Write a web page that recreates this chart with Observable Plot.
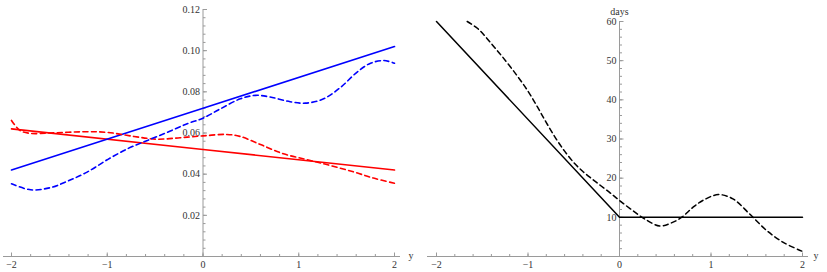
<!DOCTYPE html>
<html>
<head>
<meta charset="utf-8">
<script src="https://cdn.jsdelivr.net/npm/d3@7"></script>
<script src="https://cdn.jsdelivr.net/npm/@observablehq/plot@0.6"></script>
<style>
  html, body { margin: 0; padding: 0; background: #fff; }
  #wrap { display: flex; flex-direction: row; width: 827px; height: 272px; }
</style>
</head>
<body>
<div id="wrap"></div>
<script>
// ---------- Left panel data ----------
const blueSolidX = [-2, 0, 2];
const blueSolidV = [0.042, 0.072, 0.102];
const redSolidX = [-2, 0, 2];
const redSolidV = [0.062, 0.052, 0.042];
const blueDashedX = [-2, -1.8, -1.59, -1.4, -1.21, -1.0, -0.79, -0.58, -0.37, -0.165, 0, 0.18, 0.39, 0.55, 0.7, 0.91, 1.07, 1.26, 1.44, 1.61, 1.75, 1.89, 2];
const blueDashedV = [0.0353, 0.0324, 0.0335, 0.0369, 0.041, 0.047, 0.0523, 0.0564, 0.0604, 0.0645, 0.0672, 0.0717, 0.0766, 0.0783, 0.0775, 0.0752, 0.0745, 0.0766, 0.0823, 0.0896, 0.0939, 0.0952, 0.0939];
const redDashedX = [-2, -1.91, -1.8, -1.59, -1.24, -1.0, -0.72, -0.48, -0.24, 0, 0.25, 0.39, 0.6, 0.84, 1.09, 1.33, 1.58, 1.78, 2];
const redDashedV = [0.0661, 0.0612, 0.0598, 0.0600, 0.0606, 0.0603, 0.0583, 0.0570, 0.0577, 0.0586, 0.0593, 0.0583, 0.0544, 0.0499, 0.0470, 0.0442, 0.0410, 0.0381, 0.0356];
const leftXTicks = [-2, -1, 0, 1, 2];
const leftYTicks = [0.02, 0.04, 0.06, 0.08, 0.10, 0.12];

// ---------- Right panel data ----------
const blackSolidX = [-2, 0, 2];
const blackSolidV = [60, 10, 10];
const blackDashedX = [-1.664, -1.55, -1.46, -1.37, -1.28, -1.13, -1.0, -0.9, -0.8, -0.7, -0.6, -0.5, -0.4, -0.3, -0.2, -0.1, 0, 0.146, 0.274, 0.44, 0.58, 0.69, 0.8, 0.91, 1.08, 1.24, 1.42, 1.61, 1.79, 2.0];
const blackDashedV = [60, 58.2, 56, 53.5, 51, 46.5, 42.2, 38.3, 34.2, 30.3, 26.9, 24.0, 21.7, 19.8, 18.0, 16.2, 14.3, 11.7, 9.6, 7.8, 8.7, 10.2, 12.5, 14.3, 15.8, 14.7, 10.9, 6.6, 3.6, 1.3];
const rightXTicks = [-2, -1, 0, 1, 2];
const rightYTicks = [10, 20, 30, 40, 50, 60];
const xLabel = "y";
const rightYLabel = "days";

// ---------- helpers ----------
const zip = (xs, vs) => xs.map((x, i) => ({x, v: vs[i]}));
const axisColor = "#9a9a9a";
const textColor = "#333";
const font = "Liberation Serif, Times New Roman, serif";
const minusFmt = d => (d < 0 ? "\u2212" + Math.abs(d) : String(d));

const tickUp = len => ({draw(ctx) { ctx.moveTo(0, 0); ctx.lineTo(0, -len); }});
const tickRight = len => ({draw(ctx) { ctx.moveTo(0, 0); ctx.lineTo(len, 0); }});

function axesMarks({xMajor, xMinor, yMajor, yMinor, yFmt, yMax, xInsetL, xInsetR}) {
  return [
    Plot.ruleY([0], {stroke: axisColor, strokeWidth: 1, insetLeft: xInsetL, insetRight: xInsetR}),
    Plot.ruleX([0], {y1: 0, y2: yMax, stroke: axisColor, strokeWidth: 1}),
    Plot.dot(xMinor, {x: d => d, y: 0, symbol: tickUp(2.5), stroke: axisColor, fill: "none", strokeWidth: 1}),
    Plot.dot(xMajor, {x: d => d, y: 0, symbol: tickUp(4), stroke: axisColor, fill: "none", strokeWidth: 1}),
    Plot.dot(yMinor, {x: 0, y: d => d, symbol: tickRight(2.5), stroke: axisColor, fill: "none", strokeWidth: 1}),
    Plot.dot(yMajor, {x: 0, y: d => d, symbol: tickRight(4), stroke: axisColor, fill: "none", strokeWidth: 1}),
    Plot.text(xMajor, {x: d => d, y: 0, text: minusFmt, dy: 8, fill: textColor, fontSize: 10, fontFamily: font, textAnchor: "middle"}),
    Plot.text(yMajor, {x: 0, y: d => d, text: yFmt, dx: -3, fill: textColor, fontSize: 10, fontFamily: font, textAnchor: "end"})
  ];
}

// ---------- Left plot ----------
const leftXMinor = d3.range(-20, 21, 2).map(d => d / 10);
const leftYMinor = d3.range(1, 31).map(d => d * 0.004);

const left = Plot.plot({
  width: 417, height: 272,
  marginLeft: 11, marginRight: 23, marginTop: 9, marginBottom: 16,
  x: {domain: [-2, 2], axis: null},
  y: {domain: [0, 0.12], axis: null},
  style: {fontFamily: font, background: "#fff", overflow: "visible"},
  marks: [
    ...axesMarks({xMajor: leftXTicks, xMinor: leftXMinor, yMajor: leftYTicks, yMinor: leftYMinor,
      yFmt: d => d.toFixed(2), yMax: 0.12, xInsetL: -8, xInsetR: -6}),
    Plot.text([xLabel], {frameAnchor: "right", y: 0, text: d => d, dx: 19, dy: -1, fill: textColor, fontSize: 10, fontFamily: font}),
    Plot.line(zip(redSolidX, redSolidV), {x: "x", y: "v", stroke: "#ff0000", strokeWidth: 1.6}),
    Plot.line(zip(blueSolidX, blueSolidV), {x: "x", y: "v", stroke: "#0000ff", strokeWidth: 1.6}),
    Plot.line(zip(redDashedX, redDashedV), {x: "x", y: "v", stroke: "#ff0000", strokeWidth: 1.6, strokeDasharray: "5,3.5", curve: "catmull-rom"}),
    Plot.line(zip(blueDashedX, blueDashedV), {x: "x", y: "v", stroke: "#0000ff", strokeWidth: 1.6, strokeDasharray: "5,3.5", curve: "catmull-rom"})
  ]
});

// ---------- Right plot ----------
const rightXMinor = d3.range(-20, 21, 2).map(d => d / 10);
const rightYMinor = d3.range(1, 31).map(d => d * 2);

const right = Plot.plot({
  width: 410, height: 272,
  marginLeft: 19, marginRight: 25, marginTop: 21, marginBottom: 16,
  x: {domain: [-2, 2], axis: null},
  y: {domain: [0, 60], axis: null},
  style: {fontFamily: font, background: "#fff", overflow: "visible"},
  marks: [
    ...axesMarks({xMajor: rightXTicks, xMinor: rightXMinor, yMajor: rightYTicks, yMinor: rightYMinor,
      yFmt: d => String(d), yMax: 60, xInsetL: -9, xInsetR: -6}),
    Plot.text([xLabel], {frameAnchor: "right", y: 0, text: d => d, dx: 16, dy: -1, fill: textColor, fontSize: 10, fontFamily: font}),
    Plot.text([rightYLabel], {x: 0, frameAnchor: "top", text: d => d, dy: -14, fill: textColor, fontSize: 10, fontFamily: font}),
    Plot.line(zip(blackSolidX, blackSolidV), {x: "x", y: "v", stroke: "#000", strokeWidth: 1.5}),
    Plot.line(zip(blackDashedX, blackDashedV), {x: "x", y: "v", stroke: "#000", strokeWidth: 1.5, strokeDasharray: "5,3.5", curve: "catmull-rom"})
  ]
});

document.getElementById("wrap").append(left, right);
</script>
</body>
</html>
